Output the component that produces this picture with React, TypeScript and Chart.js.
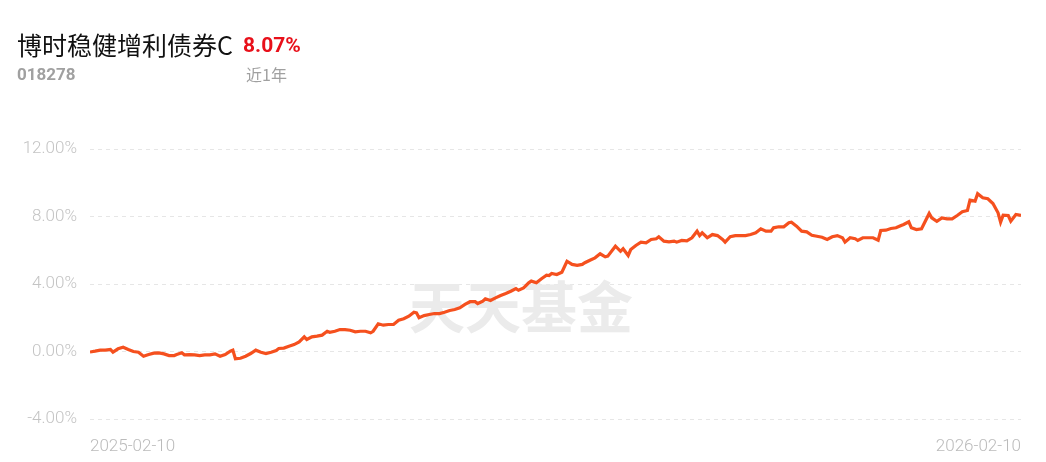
import React, { useEffect, useRef } from "react";
import { Chart, registerables } from "chart.js";

Chart.register(...registerables);

const fundName = "博时稳健增利债券C";
const fundCode = "018278";
const periodReturn = "8.07%";
const periodLabel = "近1年";
const watermark = "天天基金";
const startDate = "2025-02-10";
const endDate = "2026-02-10";
const totalDays = 365;

const yTicks = [-4, 0, 4, 8, 12];

// day offsets from 2025-02-10
const dayOffsets = [
  0, 2, 4, 6, 8, 9, 11, 13, 15, 17, 19, 21, 23, 25, 27, 29, 31, 33, 34, 36,
  37, 39, 41, 43, 45, 47, 49, 51, 53, 55, 56, 57, 59, 61, 63, 65, 67, 69, 71, 73,
  74, 76, 78, 80, 82, 84, 85, 87, 89, 91, 93, 94, 96, 98, 100, 102, 104, 106, 108, 110,
  111, 113, 115, 117, 119, 121, 123, 125, 127, 128, 129, 131, 133, 135, 137, 139, 141, 143, 145, 147,
  149, 151, 152, 154, 155, 157, 159, 161, 163, 165, 167, 168, 170, 172, 173, 175, 177, 179, 180, 181,
  183, 185, 187, 189, 191, 193, 194, 196, 198, 200, 202, 203, 205, 206, 208, 209, 211, 212, 214, 216,
  218, 220, 222, 223, 225, 227, 229, 230, 232, 234, 236, 238, 239, 240, 242, 244, 246, 248, 249, 251,
  253, 255, 257, 259, 261, 263, 265, 267, 268, 270, 272, 274, 275, 277, 279, 281, 283, 285, 287, 289,
  291, 293, 295, 296, 298, 300, 301, 303, 305, 307, 309, 310, 312, 314, 316, 318, 319, 321, 322, 324,
  326, 329, 330, 332, 334, 336, 338, 340, 342, 344, 345, 347, 348, 350, 352, 354, 356, 357, 358, 360,
  361, 363, 365,
];

// cumulative return (%)
const returns = [
  -0.03, 0.02, 0.08, 0.08, 0.12, -0.04, 0.16, 0.25, 0.12, 0.0, -0.04, -0.28, -0.18, -0.1, -0.08, -0.14, -0.24, -0.24, -0.18, -0.08,
  -0.2, -0.18, -0.2, -0.24, -0.2, -0.2, -0.14, -0.28, -0.18, 0.02, 0.08, -0.43, -0.4, -0.28, -0.12, 0.08, -0.04, -0.12, -0.04, 0.06,
  0.18, 0.2, 0.31, 0.41, 0.57, 0.87, 0.71, 0.87, 0.91, 0.97, 1.2, 1.14, 1.2, 1.3, 1.3, 1.26, 1.17, 1.2, 1.2, 1.11,
  1.2, 1.64, 1.56, 1.6, 1.6, 1.85, 1.94, 2.09, 2.33, 2.29, 2.0, 2.13, 2.19, 2.25, 2.25, 2.33, 2.43, 2.49, 2.59, 2.79,
  2.95, 2.95, 2.84, 2.98, 3.12, 3.02, 3.18, 3.32, 3.44, 3.57, 3.73, 3.63, 3.77, 4.07, 4.17, 4.07, 4.31, 4.52, 4.5, 4.62,
  4.56, 4.7, 5.35, 5.16, 5.1, 5.16, 5.26, 5.41, 5.55, 5.79, 5.61, 5.65, 6.04, 6.24, 5.94, 6.09, 5.69, 6.04, 6.28, 6.48,
  6.44, 6.64, 6.68, 6.8, 6.54, 6.5, 6.54, 6.48, 6.58, 6.56, 6.74, 7.13, 6.87, 7.03, 6.74, 6.93, 6.87, 6.64, 6.48, 6.8,
  6.87, 6.87, 6.87, 6.93, 7.03, 7.27, 7.13, 7.13, 7.33, 7.39, 7.39, 7.63, 7.66, 7.43, 7.13, 7.09, 6.89, 6.83, 6.77, 6.64,
  6.8, 6.87, 6.74, 6.48, 6.74, 6.68, 6.58, 6.74, 6.74, 6.74, 6.6, 7.17, 7.19, 7.29, 7.33, 7.47, 7.53, 7.69, 7.33, 7.23,
  7.27, 8.18, 7.92, 7.72, 7.92, 7.86, 7.86, 8.06, 8.28, 8.36, 8.97, 8.91, 9.35, 9.11, 9.05, 8.77, 8.22, 7.66, 8.08, 8.06,
  7.72, 8.12, 8.07,
];

const watermarkPlugin = {
  id: "watermark",
  beforeDatasetsDraw(chart: any) {
    const { ctx } = chart;
    ctx.save();
    ctx.font = "bold 56px 'Noto Sans CJK SC'";
    ctx.fillStyle = "#ebebeb";
    ctx.textAlign = "center";
    ctx.textBaseline = "middle";
    ctx.fillText(watermark, 521, 307);
    ctx.restore();
  },
};

export default function App() {
  const canvasRef = useRef<HTMLCanvasElement>(null);

  useEffect(() => {
    document.body.style.margin = "0";
    const canvas = canvasRef.current;
    if (!canvas) return;
    const chart = new Chart(canvas, {
      type: "line",
      data: {
        datasets: [
          {
            data: dayOffsets.map((d, i) => ({ x: d, y: returns[i] })),
            borderColor: "#f5501e",
            borderWidth: 3.2,
            pointRadius: 0,
            tension: 0,
            fill: false,
          },
        ],
      },
      plugins: [watermarkPlugin],
      options: {
        animation: false,
        responsive: false,
        maintainAspectRatio: false,
        layout: { padding: { left: 0, right: 25, top: 149, bottom: 0 } },
        plugins: { legend: { display: false }, tooltip: { enabled: false } },
        scales: {
          x: {
            type: "linear",
            min: 0,
            max: totalDays,
            grid: { display: false },
            border: { display: false },
            afterBuildTicks(scale: any) {
              scale.ticks = [{ value: 0 }, { value: totalDays }];
            },
            afterFit(scale: any) {
              scale.height = 43;
            },
            ticks: {
              align: "inner",
              maxRotation: 0,
              padding: 10,
              color: "#bbbbbb",
              font: { size: 17, family: "Roboto", weight: "300" },
              callback: (v: any) => (v === 0 ? startDate : endDate),
            },
          },
          y: {
            min: -4,
            max: 12,
            border: { display: false, dash: [4, 4] },
            grid: {
              color: "#e6e6e6",
              lineWidth: 1,
              drawTicks: false,
            },
            afterBuildTicks(scale: any) {
              scale.ticks = yTicks.map((v) => ({ value: v }));
            },
            afterFit(scale: any) {
              scale.width = 90;
            },
            ticks: {
              padding: 13,
              color: "#c4c4c4",
              font: { size: 17, family: "Roboto", weight: "300" },
              callback: (v: any) => Number(v).toFixed(2) + "%",
            },
          },
        },
      },
    } as any);
    return () => chart.destroy();
  }, []);

  return (
    <div style={{ position: "relative", width: 1046, height: 462, background: "#fff" }}>
      <canvas
        ref={canvasRef}
        width={1046}
        height={462}
        style={{ position: "absolute", left: 0, top: 0, width: 1046, height: 462 }}
      />
      <div
        style={{
          position: "absolute",
          left: 17,
          top: 28,
          fontFamily: "'Noto Sans CJK SC'",
          fontSize: 25,
          lineHeight: "32px",
          color: "#111",
          whiteSpace: "nowrap",
        }}
      >
        {fundName}
      </div>
      <div
        style={{
          position: "absolute",
          left: 243,
          top: 30,
          fontFamily: "Roboto",
          fontWeight: "bold",
          fontSize: 21,
          lineHeight: "30px",
          color: "#e8101a",
        }}
      >
        {periodReturn}
      </div>
      <div
        style={{
          position: "absolute",
          left: 17,
          top: 63,
          fontFamily: "Roboto",
          fontWeight: "bold",
          fontSize: 17,
          lineHeight: "22px",
          color: "#a0a0a0",
        }}
      >
        {fundCode}
      </div>
      <div
        style={{
          position: "absolute",
          left: 246,
          top: 63,
          fontFamily: "'Noto Sans CJK SC'",
          fontSize: 16,
          lineHeight: "22px",
          color: "#a0a0a0",
        }}
      >
        {periodLabel}
      </div>
    </div>
  );
}
